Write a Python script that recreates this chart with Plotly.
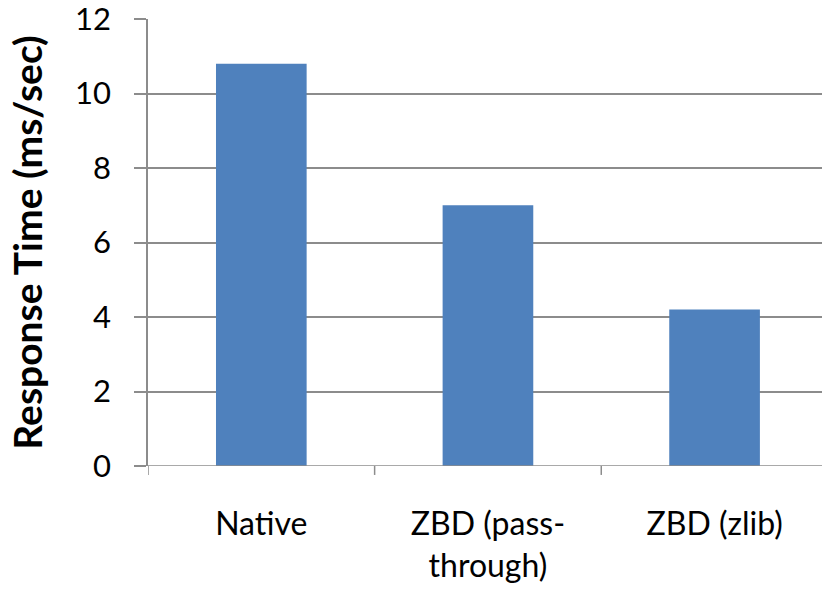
import plotly.graph_objects as go

categories = ["Native", "ZBD (pass-through)", "ZBD (zlib)"]
tick_labels = ["Native", "ZBD (pass-<br>through)", "ZBD (zlib)"]
response_time = [10.8, 7.0, 4.2]
y_ticks = [0, 2, 4, 6, 8, 10, 12]

AXIS_GRAY = "#8c8c8c"
FONT = "Lato"

fig = go.Figure(
    go.Bar(
        x=categories,
        y=response_time,
        marker=dict(color="#4f81bd", line=dict(width=0)),
        width=0.40,
    )
)

fig.update_layout(
    width=822,
    height=591,
    margin=dict(l=148, r=0, t=19, b=125),
    plot_bgcolor="white",
    paper_bgcolor="white",
    showlegend=False,
    font=dict(family=FONT, color="black"),
)

fig.update_xaxes(
    type="category",
    range=[-0.5, 2.474],
    tickmode="array",
    tickvals=categories,
    ticktext=tick_labels,
    tickfont=dict(size=32, family=FONT),
    showgrid=False,
    showline=False,
    ticks="",
    ticklabelstandoff=36,
)

fig.update_yaxes(
    range=[0, 12],
    tickvals=y_ticks,
    tickfont=dict(size=31, family=FONT),
    ticklabeloverflow="allow",
    showgrid=True,
    gridcolor=AXIS_GRAY,
    gridwidth=1.5,
    showline=True,
    linecolor=AXIS_GRAY,
    linewidth=1.5,
    ticks="outside",
    ticklen=12,
    tickcolor=AXIS_GRAY,
    tickwidth=1.5,
    ticklabelstandoff=17,
    zeroline=False,
    title=dict(
        text="<b>Response Time (ms/sec)</b>",
        font=dict(size=39, family=FONT),
        standoff=20,
    ),
)

# x-axis baseline at zero with category separator ticks below it
fig.add_shape(
    type="line", xref="paper", yref="y",
    x0=0, x1=1, y0=0, y1=0,
    line=dict(color=AXIS_GRAY, width=1.5),
)
for b in [-0.5, 0.5, 1.5]:
    fig.add_shape(
        type="line", xref="x", yref="paper",
        x0=b, x1=b, y0=0, y1=-0.02,
        line=dict(color=AXIS_GRAY, width=1.5),
    )

fig.write_html("out.html")
